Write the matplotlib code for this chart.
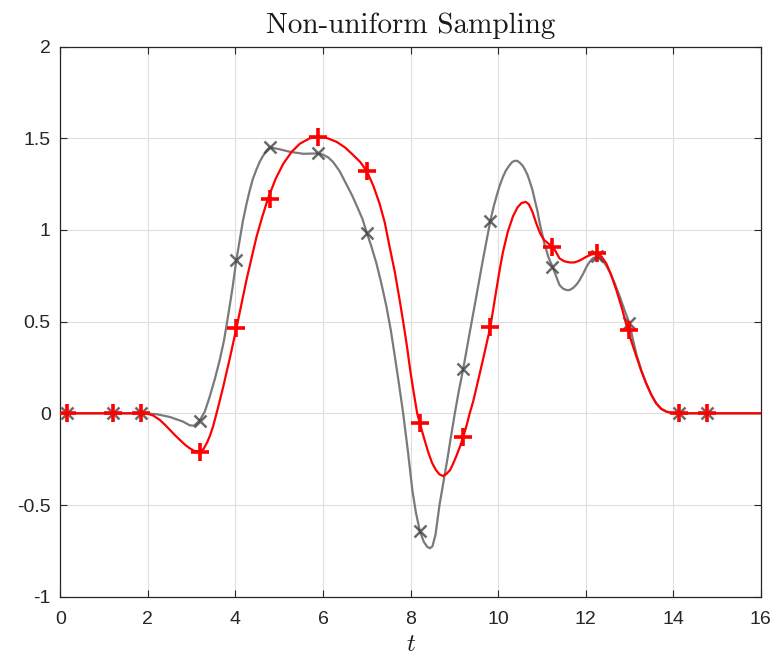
"""Non-uniform sampling: two reconstructions through the same sample instants."""

import matplotlib
matplotlib.use("Agg")
import matplotlib.pyplot as plt

# sample instants and sample values
t_samp = [0.15, 1.20, 1.84, 3.18, 4.02, 4.78, 5.89, 7.00, 8.21, 9.20,
          9.82, 11.24, 12.25, 12.98, 14.12, 14.78]
gray_samp = [0, 0, 0, -0.04, 0.835, 1.45, 1.417, 0.984, -0.641, 0.24,
             1.048, 0.80, 0.855, 0.49, 0, 0]
red_samp = [0, 0, 0, -0.21, 0.463, 1.17, 1.507, 1.32, -0.054, -0.13,
            0.469, 0.908, 0.872, 0.454, 0, 0]

# reconstructed curves
t_gray = [0, 1.9, 2.2, 2.5, 2.8, 2.95, 3.05, 3.18, 3.30, 3.41, 3.52, 3.64,
          3.74, 3.83, 3.93, 4.02, 4.10, 4.17, 4.25, 4.33, 4.40, 4.48, 4.55,
          4.62, 4.70, 4.78, 4.90, 5.00, 5.24, 5.55, 5.89, 6.00, 6.12, 6.23,
          6.38, 6.53, 6.66, 6.78, 6.90, 7.00, 7.11, 7.22, 7.33, 7.45, 7.55,
          7.64, 7.74, 7.83, 7.94, 8.04, 8.12, 8.21, 8.30, 8.38, 8.44, 8.50,
          8.57, 8.66, 8.75, 8.84, 8.92, 9.01, 9.10, 9.20, 9.35, 9.50, 9.65,
          9.82, 9.90, 9.97, 10.04, 10.11, 10.18, 10.25, 10.32, 10.38, 10.44,
          10.50, 10.56, 10.62, 10.67, 10.72, 10.78, 10.84, 10.90, 10.95,
          11.05, 11.15, 11.24, 11.32, 11.40, 11.48, 11.56, 11.63, 11.72,
          11.80, 11.86, 11.95, 12.02, 12.09, 12.16, 12.24, 12.32, 12.40,
          12.48, 12.55, 12.66, 12.78, 12.89, 13.00, 13.08, 13.16, 13.27,
          13.38, 13.50, 13.61, 13.72, 13.84, 13.95, 14.03, 16]
gray_val = [0, 0, -0.005, -0.02, -0.045, -0.065, -0.068, -0.04, 0.01, 0.09,
            0.18, 0.29, 0.40, 0.53, 0.68, 0.835, 0.95, 1.05, 1.14, 1.22,
            1.28, 1.33, 1.37, 1.40, 1.43, 1.45, 1.445, 1.44, 1.426, 1.415,
            1.417, 1.41, 1.395, 1.37, 1.32, 1.25, 1.19, 1.126, 1.06, 0.984,
            0.905, 0.817, 0.71, 0.58, 0.45, 0.31, 0.15, 0.0, -0.21, -0.42,
            -0.54, -0.641, -0.70, -0.728, -0.736, -0.725, -0.66, -0.5, -0.375,
            -0.25, -0.13, 0.0, 0.12, 0.24, 0.44, 0.636, 0.835, 1.048, 1.13,
            1.19, 1.245, 1.29, 1.325, 1.35, 1.37, 1.377, 1.376, 1.365, 1.35,
            1.325, 1.30, 1.265, 1.22, 1.16, 1.10, 1.036, 0.93, 0.85, 0.80,
            0.75, 0.70, 0.68, 0.672, 0.672, 0.685, 0.705, 0.726, 0.765, 0.80,
            0.826, 0.845, 0.853, 0.85, 0.83, 0.80, 0.77, 0.71, 0.635, 0.56,
            0.49, 0.40, 0.32, 0.235, 0.165, 0.10, 0.055, 0.025, 0.01, 0.002,
            0, 0]

t_red = [0, 1.97, 2.12, 2.27, 2.40, 2.50, 2.62, 2.73, 2.85, 2.95, 3.06, 3.18,
         3.27, 3.35, 3.42, 3.49, 3.60, 3.72, 3.87, 4.02, 4.14, 4.25, 4.37,
         4.48, 4.61, 4.74, 4.92, 5.09, 5.28, 5.47, 5.70, 5.89, 6.10, 6.31,
         6.50, 6.68, 6.85, 7.00, 7.15, 7.29, 7.41, 7.52, 7.64, 7.75, 7.83,
         7.92, 8.00, 8.08, 8.15, 8.21, 8.30, 8.40, 8.49, 8.58, 8.66, 8.74,
         8.82, 8.90, 8.98, 9.05, 9.13, 9.20, 9.28, 9.35, 9.43, 9.50, 9.66,
         9.82, 9.97, 10.04, 10.11, 10.22, 10.34, 10.44, 10.53, 10.63, 10.70,
         10.78, 10.87, 10.96, 11.05, 11.15, 11.25, 11.32, 11.40, 11.50,
         11.58, 11.66, 11.75, 11.88, 12.01, 12.13, 12.26, 12.36, 12.47,
         12.58, 12.70, 12.83, 12.96, 13.06, 13.16, 13.27, 13.38, 13.50,
         13.61, 13.72, 13.84, 13.95, 14.03, 16]
red_val = [0, 0, -0.012, -0.036, -0.065, -0.09, -0.12, -0.145, -0.172, -0.19,
           -0.205, -0.21, -0.195, -0.16, -0.12, -0.07, 0.03, 0.145, 0.30,
           0.463, 0.60, 0.726, 0.85, 0.962, 1.07, 1.17, 1.28, 1.36, 1.425,
           1.47, 1.50, 1.507, 1.50, 1.48, 1.45, 1.41, 1.37, 1.32, 1.24, 1.144,
           1.04, 0.908, 0.77, 0.617, 0.5, 0.36, 0.22, 0.10, 0.0, -0.054,
           -0.13, -0.21, -0.27, -0.31, -0.333, -0.342, -0.33, -0.31, -0.27,
           -0.23, -0.18, -0.13, -0.065, 0.0, 0.065, 0.136, 0.30, 0.469, 0.69,
           0.79, 0.88, 0.99, 1.075, 1.122, 1.146, 1.153, 1.14, 1.10, 1.036,
           0.98, 0.945, 0.925, 0.908, 0.88, 0.845, 0.83, 0.825, 0.822, 0.823,
           0.835, 0.853, 0.866, 0.872, 0.855, 0.817, 0.755, 0.672, 0.57,
           0.454, 0.38, 0.308, 0.23, 0.163, 0.10, 0.054, 0.025, 0.009, 0.002,
           0, 0]

y_ticks = [-1, -0.5, 0, 0.5, 1, 1.5, 2]
y_labels = ["-1", "-0.5", "0", "0.5", "1", "1.5", "2"]
x_ticks = [0, 2, 4, 6, 8, 10, 12, 14, 16]

plt.rcParams["mathtext.fontset"] = "cm"
plt.rcParams["font.family"] = ["Liberation Sans", "DejaVu Sans"]

fig = plt.figure(figsize=(7.74, 6.55), dpi=100)
ax = fig.add_axes([0.078, 0.089, 0.905, 0.840])

ax.plot(t_gray, gray_val, color="#7a7a7a", lw=1.6, zorder=2)
ax.plot(t_samp, gray_samp, ls="none", marker="x", ms=9, mew=1.8,
        color="#3a3a3a", alpha=0.75, zorder=3)
ax.plot(t_red, red_val, color="#ff0000", lw=1.6, zorder=4)
ax.plot(t_samp, red_samp, ls="none", marker="+", ms=13, mew=2.6,
        color="#ff0000", zorder=5)

ax.set_xlim(0, 16)
ax.set_ylim(-1, 2)
ax.set_xticks(x_ticks)
ax.set_yticks(y_ticks)
ax.set_yticklabels(y_labels)
ax.grid(True, color="#dedede", lw=0.8)
ax.set_axisbelow(True)
ax.tick_params(direction="in", length=5, width=0.8, colors="#262626",
               labelsize=14, top=True, right=True, pad=7)
ax.tick_params(axis="x", pad=10)
for s in ax.spines.values():
    s.set_color("#262626")
    s.set_linewidth(0.9)

ax.set_title("Non-uniform Sampling", family="cmr10", fontsize=21,
             color="#1a1a1a", pad=10)
ax.set_xlabel("$t$", fontsize=18, labelpad=3, color="#1a1a1a")

fig.savefig("out.png", dpi=100)
